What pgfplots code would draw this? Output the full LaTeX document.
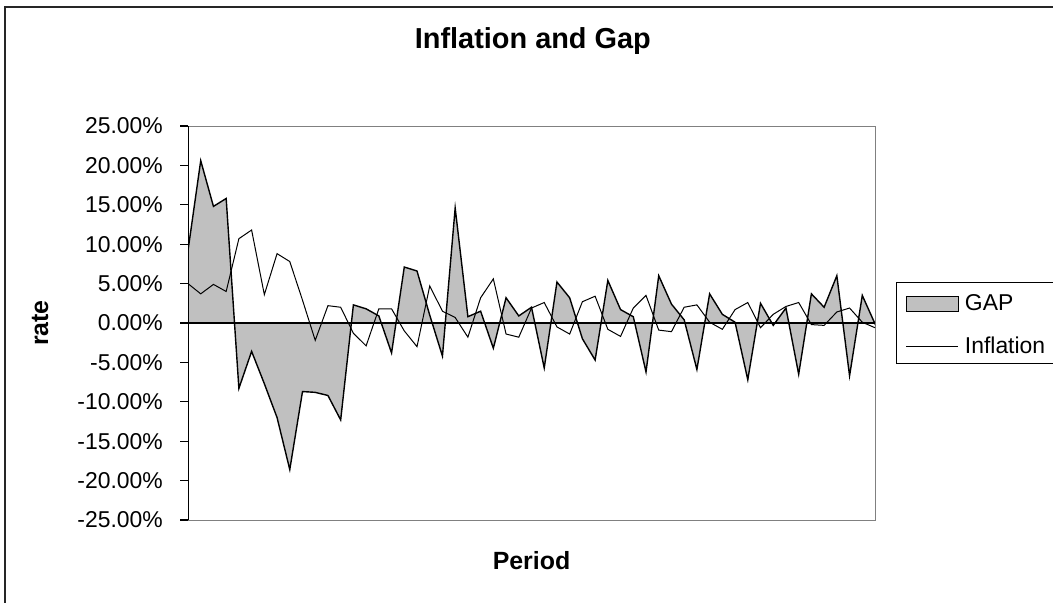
\documentclass[border=0pt]{standalone}
\usepackage{fontspec}
\setmainfont{Liberation Sans}
\usepackage{pgfplots}
\usepackage{pgfplotstable}
\pgfplotsset{compat=1.18}
\definecolor{gapfill}{RGB}{192,192,192}
\definecolor{framegray}{RGB}{128,128,128}
\pgfplotsset{
  gaplegend/.style={legend image code/.code={\draw[##1] (0bp,-10bp) rectangle (52bp,5bp);}},
  inflegend/.style={legend image code/.code={\draw[##1] (0bp,-2.5bp) -- (52bp,-2.5bp);}},
}

\pgfplotstableread{
i gap infl
0 9.2 5.0
1 20.6 3.7
2 14.8 4.9
3 15.8 4.0
4 -8.3 10.7
5 -3.6 11.8
6 -7.7 3.6
7 -12.0 8.8
8 -18.6 7.8
9 -8.7 2.9
10 -8.8 -2.2
11 -9.2 2.2
12 -12.3 2.0
13 2.3 -1.3
14 1.8 -2.9
15 0.9 1.8
16 -3.8 1.8
17 7.1 -1.0
18 6.6 -3.0
19 1.0 4.7
20 -4.2 1.5
21 14.6 0.7
22 0.8 -1.8
23 1.5 3.2
24 -3.2 5.6
25 3.2 -1.4
26 0.9 -1.8
27 2.0 1.9
28 -5.7 2.6
29 5.2 -0.5
30 3.2 -1.4
31 -2.0 2.7
32 -4.7 3.4
33 5.4 -0.8
34 1.7 -1.7
35 0.8 1.9
36 -6.2 3.5
37 6.0 -0.9
38 2.4 -1.1
39 0.4 2.0
40 -5.9 2.3
41 3.7 0.1
42 1.1 -0.8
43 0.1 1.7
44 -7.2 2.6
45 2.5 -0.6
46 -0.3 1.1
47 1.9 2.1
48 -6.5 2.6
49 3.7 -0.2
50 2.0 -0.3
51 6.0 1.4
52 -6.7 1.9
53 3.5 0.1
54 -0.1 -0.6
}\datatable

\begin{document}
\begin{tikzpicture}[x=1bp,y=1bp]
\useasboundingbox (0,0) rectangle (1053,-603);
\draw[line width=2bp, black!85] (5,-610) -- (5,-7) -- (1060,-7);
\begin{axis}[
  at={(188bp,-520bp)}, anchor=south west,
  scale only axis, width=687bp, height=394bp,
  xmin=0, xmax=54, ymin=-25, ymax=25,
  xtick=\empty,
  ytick={-25,-20,...,25},
  ytick pos=left,
  tick align=outside,
  major tick length=8bp,
  ytick style={black, line width=1.3bp},
  axis line style={draw=framegray, line width=1bp},
  yticklabel={\pgfmathprintnumber[fixed,fixed zerofill,precision=2,assume math mode=true]{\tick}\%},
  yticklabel style={font=\fontsize{23}{26}\selectfont, anchor=east, inner sep=0pt, xshift=-17bp},
  title={Inflation and Gap},
  title style={at={(0.502,1.2005)}, anchor=center, font=\bfseries\fontsize{29}{32}\selectfont},
  xlabel={Period},
  xlabel style={at={(0.5,-0.104)}, anchor=center, font=\bfseries\fontsize{25}{28}\selectfont},
  ylabel={rate},
  ylabel style={at={(-0.2154,0.5)}, anchor=center, font=\bfseries\fontsize{25}{28}\selectfont},
  legend style={at={(1.0306,0.6041)}, anchor=north west, draw=black, line width=1bp,
    inner xsep=9bp, inner ysep=6bp, font=\fontsize{23}{26}\selectfont,
    nodes={inner sep=0pt, text height=22bp, text depth=4bp, anchor=west},
    row sep=17bp, column sep=6bp},
  legend cell align=left,
]
\addplot[fill=gapfill, draw=black, line width=1.4bp, gaplegend]
  table[x=i, y=gap] {\datatable} \closedcycle;
\addlegendentry{GAP}
\draw[black, line width=1.5bp] (axis cs:0,0) -- (axis cs:54,0);
\addplot[black, line width=1bp, inflegend]
  table[x=i, y=infl] {\datatable};
\addlegendentry{Inflation}
\draw[black, line width=1.3bp] (rel axis cs:0,0) -- (rel axis cs:0,1);
\end{axis}
\end{tikzpicture}
\end{document}
